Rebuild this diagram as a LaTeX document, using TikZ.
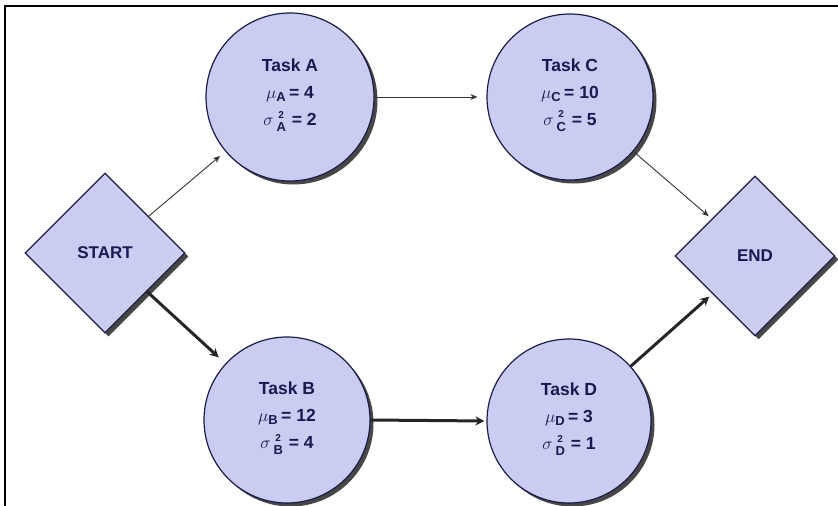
\documentclass[tikz,border=0pt]{standalone}
\usepackage{fontspec}
\setmainfont{Liberation Sans}
\usetikzlibrary{shapes.geometric,shadows,arrows.meta}
\definecolor{lav}{RGB}{202,204,242}
\definecolor{navy}{RGB}{24,26,80}
\definecolor{edgec}{RGB}{28,28,72}
\newcommand\tsb[1]{\mbox{\fontsize{13}{13}\selectfont\bfseries #1}}
\newcommand\stk[2]{{\fontsize{13}{12}\selectfont\begin{tabular}{@{}c@{}}{\fontsize{10}{10}\selectfont #1}\\[1pt]#2\end{tabular}}}
\begin{document}
\begin{tikzpicture}[x=1pt,y=-1pt,
  shade3/.style={drop shadow={shadow xshift=3.5pt, shadow yshift=-3.5pt, fill=black!72, opacity=1}},
  task/.style={circle, draw=edgec, line width=1.2pt, fill=lav, minimum size=#1, inner sep=0pt,
    align=center, text=navy, font=\fontsize{17.5}{27}\selectfont\bfseries, shade3},
  endpt/.style={diamond, aspect=1, draw=edgec, line width=1.2pt, fill=lav, minimum width=160pt,
    minimum height=160pt, inner sep=0pt, text=navy, font=\fontsize{17}{19}\selectfont\bfseries, shade3},
  thinarr/.style={draw=black!80, line width=0.9pt, -{Stealth[length=7pt,width=6pt]}},
  thickarr/.style={draw=black!85, line width=3pt, -{Stealth[length=9pt,width=9pt]}},
  frame/.style={draw=black, line width=1.5pt}
]
\useasboundingbox (0,0) rectangle (838,506);
\coordinate (f1) at (838,6);
\coordinate (f2) at (5,6);
\coordinate (f3) at (5,506);
\draw[frame] (f1) -- (f2) -- (f3);

\node[endpt] (start) at (105,253) {START};
\node[endpt] (end) at (755,256) {END};

\node[task=168pt] (A) at (290,97) {Task A\\$\mu_{\tsb{A}}$\,= 4\\$\sigma$\,\stk{2}{A}\,\,= 2};
\node[task=166pt] (C) at (570,97) {Task C\\$\mu_{\tsb{C}}$\,= 10\\$\sigma$\,\stk{2}{C}\,\,= 5};
\node[task=166pt] (B) at (287,420) {Task B\\$\mu_{\tsb{B}}$\,= 12\\$\sigma$\,\stk{2}{B}\,\,= 4};
\node[task=164pt] (D) at (569,421) {Task D\\$\mu_{\tsb{D}}$\,= 3\\$\sigma$\,\stk{2}{D}\,\,= 1};

\draw[thinarr, shorten >=7pt] (start) -- (A);
\draw[thickarr, shorten >=9pt] (start) -- (B);
\draw[thinarr, shorten >=9pt] (A) -- (C);
\draw[thickarr, shorten >=2pt] (B.east) -- (D.west);
\draw[thinarr, shorten >=4pt] (C) -- (end);
\draw[thickarr, shorten >=4pt] (D) -- (end);
\end{tikzpicture}
\end{document}
